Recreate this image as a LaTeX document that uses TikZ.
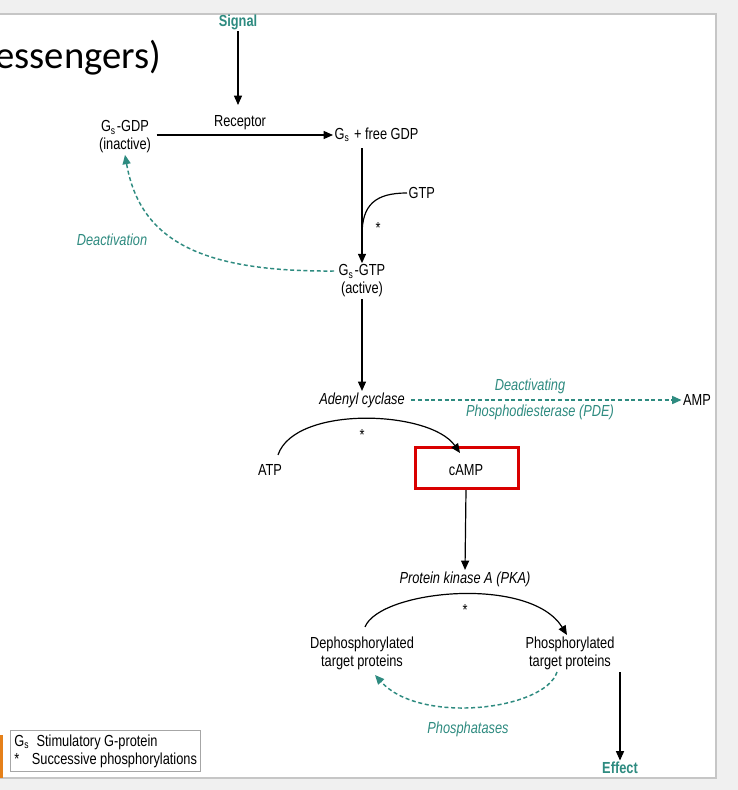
\documentclass[tikz,border=0pt]{standalone}
\usepackage{fontspec}
\setmainfont[FakeStretch=0.8]{Liberation Sans}
\newfontfamily\titlefont{Carlito}
\usetikzlibrary{arrows.meta}
\definecolor{teal1}{HTML}{2E8B80}
\tikzset{
  lbl/.style={font=\fontsize{12}{13.5}\selectfont, align=center, inner sep=1pt},
  arr/.style={-{Triangle[length=7pt,width=6pt]}, line width=0.9pt},
  darr/.style={-{Triangle[length=7pt,width=6pt]}, line width=1.1pt, teal1, dash pattern=on 3pt off 2pt},
  tl/.style={lbl, text=teal1}
}
\begin{document}
\begin{tikzpicture}[x=0.75pt,y=-0.75pt]
\useasboundingbox (0,0) rectangle (738,790);
\fill[gray!12] (0,0) rectangle (738,790);
\fill[white, draw=gray!45, line width=1pt] (-2,14) rectangle (716,778);
\fill[orange!60!brown] (0,735) rectangle (3,778);
\node[anchor=west, font=\titlefont\fontsize{29}{33}\selectfont, inner sep=0] (title) at (-5,58) {essengers)};

\node[tl, font=\fontsize{12}{13.5}\selectfont\bfseries] (signal) at (238,22) {Signal};
\node[lbl] (receptor) at (240,123) {Receptor};
\coordinate (recin) at (238,105);
\node[lbl] (gdp) at (125,137) {G$_\mathrm{s}$-GDP\\(inactive)};
\node[lbl, anchor=west] (free) at (333,135) {G$_\mathrm{s}$ + free GDP};
\coordinate (freebot) at (362,148);
\node[lbl, anchor=west] (gtp) at (407,193) {GTP};
\node[lbl] (st1) at (378,228) {*};
\node[lbl] (active) at (362,281) {G$_\mathrm{s}$-GTP\\(active)};
\node[tl, font=\fontsize{12}{13.5}\selectfont\itshape] (deact) at (112,240) {Deactivation};
\node[lbl, font=\fontsize{12}{13.5}\selectfont\itshape] (ac) at (362,400) {Adenyl cyclase};
\node[lbl] (amp) at (697,400) {AMP};
\node[tl, font=\fontsize{12}{13.5}\selectfont\itshape] (pde1) at (530,386) {Deactivating};
\node[tl, font=\fontsize{12}{13.5}\selectfont\itshape] (pde2) at (540,412) {Phosphodiesterase (PDE)};
\node[lbl] (atp) at (270,470) {ATP};
\node[lbl] (camp) at (466,470) {cAMP};
\node[draw=red!85!black, line width=2.2pt, minimum width=77pt, minimum height=31pt] (box) at (467,468) {};
\node[lbl] (st2) at (362,435) {*};
\node[lbl, font=\fontsize{12}{13.5}\selectfont\itshape] (pka) at (465,579) {Protein kinase A (PKA)};
\node[lbl] (st3) at (465,610) {*};
\node[lbl] (deph) at (362,653) {Dephosphorylated\\target proteins};
\node[lbl] (ph) at (570,653) {Phosphorylated\\target proteins};
\node[tl, font=\fontsize{12}{13.5}\selectfont\itshape] (phase) at (468,729) {Phosphatases};
\node[tl, font=\fontsize{12}{13.5}\selectfont\bfseries] (effect) at (620,768) {Effect};
\node[draw=gray!70, line width=0.7pt, lbl, align=left, anchor=north west, inner sep=3pt] (legend) at (10,730)
  {G$_\mathrm{s}$\, Stimulatory G-protein\\ *\;\; Successive phosphorylations};

\draw[arr] (signal) -- (recin);
\draw[arr] (gdp.east|-free) ++(4,0) -- (free.west);
\draw[arr] (freebot) -- (active.north);
\draw[line width=0.9pt] (gtp.west) .. controls (375,193) and (362,205) .. (362,235);
\draw[darr] (active.west) ++(-3,-10) .. controls (200,272) and (140,240) .. (gdp.south);
\draw[arr] (active.south) -- (ac.north);
\draw[darr] (ac.east) ++(5,0) -- (amp.west);
\draw[arr] (atp.north) ++(8,-8) .. controls (295,405) and (430,410) .. (460,453);
\draw[arr] (box.south-|camp) -- (pka.north);
\draw[arr] (deph.north) ++(3,-8) .. controls (380,590) and (530,575) .. (567,635);
\draw[darr] (557,672) .. controls (545,710) and (420,725) .. (375,675);
\draw[arr] (620,672) -- (effect.north);
\end{tikzpicture}
\end{document}
